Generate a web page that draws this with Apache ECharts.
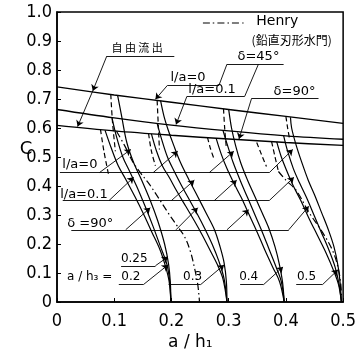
<!DOCTYPE html>
<html><head><meta charset="utf-8">
<script src="https://cdn.jsdelivr.net/npm/echarts@6/dist/echarts.min.js"></script>
<style>html,body{margin:0;padding:0;background:#fff}#c{width:359px;height:357px}</style>
</head><body><div id="c"></div>
<script>
// Axis tick labels
const xTickLabels = ['0', '0.1', '0.2', '0.3', '0.4', '0.5'];
const yTickLabels = ['0', '0.1', '0.2', '0.3', '0.4', '0.5', '0.6', '0.7', '0.8', '0.9', '1.0'];

// Free outflow lines (自由流出): [a/h1, C]
const freeL0 = [[0, 0.742], [0.1, 0.714], [0.2, 0.689], [0.3, 0.664], [0.4, 0.64], [0.5, 0.616]];
const freeL01 = [[0, 0.664], [0.1, 0.635], [0.2, 0.61], [0.3, 0.59], [0.4, 0.573], [0.5, 0.561]];
const freeD90 = [[0, 0.609], [0.1, 0.59], [0.2, 0.575], [0.3, 0.562], [0.4, 0.55], [0.5, 0.54]];

// Submerged outflow, a/h3 = 0.2
const s02L0 = [[0.106, 0.712], [0.113, 0.64], [0.122, 0.55], [0.134, 0.48], [0.148, 0.42], [0.163, 0.35], [0.176, 0.28], [0.188, 0.2], [0.195, 0.13], [0.198, 0.07], [0.199, 0]];
const s02L01 = [[0.096, 0.636], [0.104, 0.57], [0.115, 0.5], [0.127, 0.45], [0.139, 0.4], [0.154, 0.33], [0.168, 0.26], [0.181, 0.19], [0.192, 0.13], [0.197, 0.07], [0.199, 0]];
const s02D90 = [[0.084, 0.592], [0.095, 0.53], [0.107, 0.47], [0.121, 0.42], [0.137, 0.36], [0.152, 0.3], [0.166, 0.24], [0.18, 0.18], [0.19, 0.12], [0.196, 0.07], [0.199, 0]];
const s02DashA = [[0.094, 0.716], [0.097, 0.62], [0.102, 0.52]];
const s02DashB = [[0.076, 0.595], [0.082, 0.52], [0.09, 0.44]];

// a/h3 = 0.3
const s03L0 = [[0.181, 0.694], [0.187, 0.64], [0.194, 0.595], [0.204, 0.54], [0.216, 0.48], [0.231, 0.42], [0.246, 0.363], [0.261, 0.305], [0.275, 0.25], [0.285, 0.19], [0.292, 0.135], [0.296, 0.07], [0.297, 0]];
const s03L01 = [[0.175, 0.616], [0.183, 0.56], [0.193, 0.5], [0.205, 0.45], [0.218, 0.4], [0.232, 0.35], [0.246, 0.3], [0.259, 0.25], [0.271, 0.2], [0.283, 0.14], [0.292, 0.08], [0.297, 0]];
const s03D90 = [[0.165, 0.58], [0.174, 0.52], [0.184, 0.47], [0.196, 0.43], [0.21, 0.38], [0.225, 0.33], [0.24, 0.28], [0.254, 0.23], [0.267, 0.18], [0.28, 0.13], [0.29, 0.08], [0.297, 0]];
const s03DashA = [[0.175, 0.695], [0.177, 0.61], [0.179, 0.526]];
const s03DashB = [[0.16, 0.581], [0.165, 0.52], [0.172, 0.47]];

// a/h3 = 0.4
const s04L0 = [[0.3, 0.664], [0.305, 0.6], [0.312, 0.54], [0.321, 0.48], [0.333, 0.42], [0.346, 0.363], [0.359, 0.305], [0.371, 0.25], [0.381, 0.19], [0.388, 0.135], [0.394, 0.07], [0.397, 0]];
const s04L01 = [[0.29, 0.592], [0.298, 0.54], [0.308, 0.48], [0.32, 0.42], [0.333, 0.36], [0.346, 0.3], [0.359, 0.24], [0.371, 0.18], [0.383, 0.12], [0.392, 0.07], [0.397, 0]];
const s04D90 = [[0.278, 0.565], [0.287, 0.51], [0.297, 0.46], [0.309, 0.41], [0.322, 0.36], [0.336, 0.3], [0.35, 0.24], [0.363, 0.18], [0.377, 0.12], [0.389, 0.07], [0.397, 0]];
const s04DashA = [[0.291, 0.666], [0.293, 0.6], [0.296, 0.53]];
const s04DashB = [[0.263, 0.568], [0.268, 0.53], [0.275, 0.49]];

// a/h3 = 0.5
const s05L0 = [[0.408, 0.637], [0.41, 0.6], [0.418, 0.54], [0.428, 0.48], [0.439, 0.42], [0.45, 0.37], [0.462, 0.31], [0.474, 0.25], [0.484, 0.19], [0.491, 0.125], [0.495, 0.06], [0.497, 0]];
const s05L01 = [[0.396, 0.574], [0.403, 0.52], [0.413, 0.46], [0.424, 0.41], [0.436, 0.36], [0.449, 0.3], [0.462, 0.24], [0.475, 0.18], [0.486, 0.12], [0.493, 0.06], [0.497, 0]];
const s05D90 = [[0.384, 0.552], [0.392, 0.5], [0.402, 0.45], [0.413, 0.4], [0.426, 0.35], [0.44, 0.29], [0.455, 0.23], [0.47, 0.17], [0.483, 0.11], [0.492, 0.06], [0.497, 0]];
const s05DashA = [[0.4, 0.64], [0.403, 0.6], [0.406, 0.567]];
const s05DashB = [[0.375, 0.553], [0.381, 0.5], [0.387, 0.45]];
const s05DashC = [[0.349, 0.55], [0.357, 0.51], [0.366, 0.467]];

// Henry (vertical sharp-edged sluice gate)
const henryA = [[0.104, 0.589], [0.118, 0.54], [0.132, 0.485], [0.146, 0.445], [0.16, 0.41], [0.177, 0.36], [0.194, 0.308], [0.209, 0.265], [0.223, 0.225], [0.233, 0.175], [0.24, 0.12], [0.246, 0.06], [0.249, 0]];
const henryB = [[0.387, 0.45], [0.4, 0.42], [0.418, 0.385], [0.44, 0.31], [0.464, 0.24], [0.481, 0.18], [0.491, 0.12], [0.496, 0.06], [0.497, 0.02]];
const henryKey = [[0.255, 0.962], [0.33, 0.962]];

// Label guide lines (no arrowhead)
const guideLines = [
  [[0.005, 0.446], [0.371, 0.446]],
  [[0.01, 0.35], [0.371, 0.35]],
  [[0.025, 0.249], [0.405, 0.249]],
  [[0.112, 0.125], [0.172, 0.125]],
  [[0.108, 0.06], [0.151, 0.06]],
  [[0.195, 0.06], [0.251, 0.06]],
  [[0.32, 0.06], [0.361, 0.06]],
  [[0.418, 0.06], [0.464, 0.06]],
  [[0.087, 0.848], [0.205, 0.848]],
  [[0.193, 0.747], [0.283, 0.747]],
  [[0.283, 0.747], [0.297, 0.82]],
  [[0.297, 0.82], [0.396, 0.82]],
  [[0.227, 0.709], [0.328, 0.709]],
  [[0.328, 0.709], [0.352, 0.82]],
  [[0.34, 0.702], [0.457, 0.702]]
];
// Label leaders ending in an arrowhead
const arrowLines = [
  [[0.074, 0.446], [0.129, 0.526]], [[0.168, 0.446], [0.211, 0.52]], [[0.266, 0.446], [0.309, 0.52]], [[0.371, 0.446], [0.412, 0.526]],
  [[0.091, 0.35], [0.134, 0.43]], [[0.2, 0.35], [0.24, 0.42]], [[0.275, 0.35], [0.314, 0.42]], [[0.371, 0.35], [0.414, 0.43]],
  [[0.12, 0.249], [0.163, 0.325]], [[0.208, 0.249], [0.246, 0.325]], [[0.297, 0.249], [0.335, 0.318]], [[0.405, 0.249], [0.44, 0.33]],
  [[0.172, 0.125], [0.194, 0.156]], [[0.151, 0.06], [0.194, 0.128]], [[0.251, 0.06], [0.292, 0.128]],
  [[0.361, 0.06], [0.395, 0.121]], [[0.464, 0.06], [0.491, 0.111]],
  [[0.087, 0.848], [0.0625, 0.728]], [[0.0625, 0.728], [0.036, 0.605]],
  [[0.193, 0.747], [0.172, 0.699]], [[0.227, 0.709], [0.208, 0.612]], [[0.34, 0.702], [0.318, 0.562]]
];

// Text labels: [text, a/h1, C, font]
const F13 = '13px "DejaVu Sans"';
const F12 = '12px "DejaVu Sans"';
const textLabels = [
  ['自 由 流 出', 0.14, 0.877, '11px "Noto Sans CJK JP"'],
  ['l/a=0', 0.229, 0.772, F13],
  ['l/a=0.1', 0.271, 0.733, F13],
  ['δ=45°', 0.352, 0.845, F13],
  ['δ=90°', 0.415, 0.727, F13],
  ['Henry', 0.385, 0.967, '14px "DejaVu Sans"'],
  ['(鉛直刃形水門)', 0.41, 0.903, '12px "Noto Sans CJK JP"'],
  ['l/a=0', 0.04, 0.472, F13],
  ['l/a=0.1', 0.047, 0.37, F13],
  ['δ =90°', 0.058, 0.27, F13],
  ['0.25', 0.135, 0.147, F12],
  ['a / h₃ =', 0.057, 0.085, F12],
  ['0.2', 0.129, 0.085, F12],
  ['0.3', 0.237, 0.085, F12],
  ['0.4', 0.335, 0.085, F12],
  ['0.5', 0.436, 0.085, F12],
  ['C', -0.054, 0.525, '18px "DejaVu Sans"'],
  ['a / h₁', 0.233, -0.14, '17px "DejaVu Sans"']
];

const chart = echarts.init(document.getElementById('c'), null, { renderer: 'canvas' });
const tickFont = '"Liberation Sans Narrow", "DejaVu Sans Condensed", "Liberation Sans", sans-serif';

function curve(data, dash, width) {
  return {
    type: 'line', data: data, showSymbol: false, symbol: 'none', smooth: 0.35,
    lineStyle: { color: '#000', width: width || 1.2, type: dash || 'solid' },
    silent: true, animation: false
  };
}
const DASH = [5, 3];
const DASHDOT = [7, 3, 1.5, 3];

const series = [
  curve(freeL0, null, 1.4), curve(freeL01, null, 1.4), curve(freeD90, null, 1.4),
  curve(s02L0), curve(s02L01), curve(s02D90), curve(s02DashA, DASH), curve(s02DashB, DASH),
  curve(s03L0), curve(s03L01), curve(s03D90), curve(s03DashA, DASH), curve(s03DashB, DASH),
  curve(s04L0), curve(s04L01), curve(s04D90), curve(s04DashA, DASH), curve(s04DashB, DASH),
  curve(s05L0), curve(s05L01), curve(s05D90), curve(s05DashA, DASH), curve(s05DashB, DASH), curve(s05DashC, DASH),
  curve(henryA, DASHDOT), curve(henryB, DASHDOT), curve(henryKey, DASHDOT),
  {
    type: 'lines', coordinateSystem: 'cartesian2d', silent: true, animation: false,
    symbol: 'none', lineStyle: { color: '#000', width: 0.9, opacity: 1 },
    data: guideLines.map(c => ({ coords: c }))
  },
  {
    type: 'lines', coordinateSystem: 'cartesian2d', silent: true, animation: false,
    symbol: ['none', 'arrow'], symbolSize: 6, lineStyle: { color: '#000', width: 0.9, opacity: 1 },
    data: arrowLines.map(c => ({ coords: c }))
  }
];

chart.setOption({
  backgroundColor: '#fff',
  animation: false,
  grid: { left: 57, right: 11, top: 12, bottom: 55, show: true, borderColor: '#000', borderWidth: 1.5 },
  xAxis: {
    type: 'value', min: 0, max: 0.5, interval: 0.1,
    axisLine: { lineStyle: { color: '#000', width: 1.5 } },
    axisTick: { inside: true, length: 4, lineStyle: { color: '#000' } },
    axisLabel: { color: '#000', fontSize: 18, fontFamily: tickFont, margin: 10,
      formatter: (v) => xTickLabels[Math.round(v * 10)] },
    splitLine: { show: false }
  },
  yAxis: {
    type: 'value', min: 0, max: 1, interval: 0.1,
    axisLine: { lineStyle: { color: '#000', width: 1.5 } },
    axisTick: { inside: true, length: 4, lineStyle: { color: '#000' } },
    axisLabel: { color: '#000', fontSize: 18, fontFamily: tickFont, margin: 5,
      formatter: (v) => yTickLabels[Math.round(v * 10)] },
    splitLine: { show: false }
  },
  series: series
});

const graphics = textLabels.map(([t, x, y, font]) => {
  const p = chart.convertToPixel({ gridIndex: 0 }, [x, y]);
  return {
    type: 'text', x: p[0], y: p[1], silent: true,
    style: { text: t, fill: '#000', font: font, align: 'center', verticalAlign: 'middle' }
  };
});
chart.setOption({ graphic: graphics });
</script>
</body></html>
